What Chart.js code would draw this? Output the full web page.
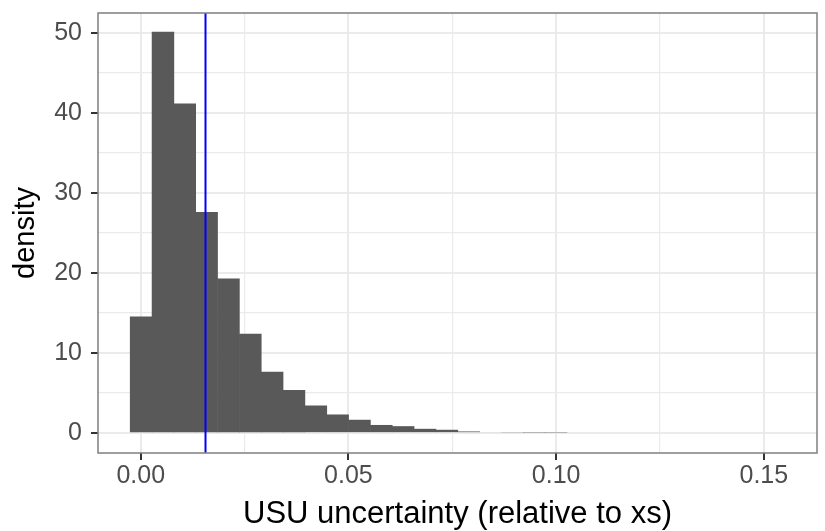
<!DOCTYPE html>
<html>
<head>
<meta charset="utf-8">
<script src="https://cdn.jsdelivr.net/npm/chart.js@4.4.1/dist/chart.umd.min.js"></script>
<style>
  html, body { margin: 0; padding: 0; background: #fff; }
  #wrap { width: 825px; height: 531px; position: relative; }
</style>
</head>
<body>
<div id="wrap"><canvas id="myChart"></canvas></div>
<script>
// histogram bins (centres) and their density
const binCenters = [
  0.00010, 0.00536, 0.01061, 0.01587, 0.02113, 0.02639, 0.03164, 0.03690,
  0.04216, 0.04741, 0.05267, 0.05793, 0.06318, 0.06844, 0.07370, 0.07896,
  0.08421, 0.08947, 0.09473, 0.09998, 0.10524, 0.11050, 0.11575, 0.12101,
  0.12627, 0.13153, 0.13678, 0.14204, 0.14730, 0.15255
];
const density = [
  14.55, 50.1, 41.15, 27.6, 19.3, 12.4, 7.66, 5.37,
  3.45, 2.33, 1.67, 1.02, 0.87, 0.54, 0.42, 0.21,
  0.12, 0.10, 0.08, 0.08, 0, 0, 0, 0,
  0, 0, 0, 0, 0, 0
];
// reference value marked with the blue line
const refValue = 0.0156;

const xMajor = [0, 0.05, 0.10, 0.15];
const xMinor = [0.025, 0.075, 0.125];
const yMajor = [0, 10, 20, 30, 40, 50];
const yMinor = [5, 15, 25, 35, 45];
const xLimits = [-0.01028, 0.1628];
const yLimits = [-2.48, 52.45];

const ctx = document.getElementById("myChart");
const font = "'Liberation Sans', Arial, sans-serif";

const isMajor = (list, v) => list.some((m) => Math.abs(m - v) < 1e-9);

// panel border around the plotting area
const panelBorder = {
  id: "panelBorder",
  afterDraw(chart) {
    const a = chart.chartArea;
    const c = chart.ctx;
    c.save();
    c.strokeStyle = "#7f7f7f";
    c.lineWidth = 1.5;
    c.strokeRect(a.left, a.top, a.right - a.left, a.bottom - a.top);
    c.restore();
  },
};

const histData = binCenters.map((x, i) => ({ x: x, y: density[i] }));

new Chart(ctx, {
  type: "bar",
  data: {
    datasets: [
      {
        type: "line",
        data: [
          { x: refValue, y: yLimits[0] },
          { x: refValue, y: yLimits[1] },
        ],
        borderColor: "#0000ff",
        borderWidth: 2,
        pointRadius: 0,
        order: 0,
      },
      {
        type: "bar",
        data: histData,
        backgroundColor: "#595959",
        borderWidth: 0,
        barPercentage: 1.03,
        categoryPercentage: 1,
        order: 1,
      },
    ],
  },
  options: {
    responsive: true,
    maintainAspectRatio: false,
    animation: false,
    layout: { padding: { top: 13, right: 8, left: 0, bottom: 0 } },
    plugins: { legend: { display: false }, tooltip: { enabled: false } },
    scales: {
      x: {
        type: "linear",
        min: xLimits[0],
        max: xLimits[1],
        offset: false,
        afterBuildTicks: (s) => {
          s.ticks = xMajor.concat(xMinor).sort((a, b) => a - b).map((v) => ({ value: v }));
        },
        afterFit: (s) => {
          s.height = 78;
          s.paddingLeft = 0;
          s.paddingRight = 0;
        },
        grid: {
          color: "#ebebeb",
          lineWidth: (c) => (isMajor(xMajor, c.tick.value) ? 2 : 1.2),
          tickColor: (c) => (isMajor(xMajor, c.tick.value) ? "#333333" : "rgba(0,0,0,0)"),
          tickWidth: 2,
          tickLength: 7,
          offset: false,
        },
        border: { display: false },
        ticks: {
          color: "#4d4d4d",
          font: { family: font, size: 25, lineHeight: 1 },
          padding: 4,
          maxRotation: 0,
          autoSkip: false,
          callback: (v) => (isMajor(xMajor, v) ? v.toFixed(2) : ""),
        },
        title: {
          display: true,
          text: "USU uncertainty (relative to xs)",
          color: "#000000",
          font: { family: font, size: 31, lineHeight: 1 },
          padding: { top: 0, bottom: 1 },
        },
      },
      y: {
        type: "linear",
        min: yLimits[0],
        max: yLimits[1],
        afterBuildTicks: (s) => {
          s.ticks = yMajor.concat(yMinor).sort((a, b) => a - b).map((v) => ({ value: v }));
        },
        afterFit: (s) => {
          s.width = 98;
          s.paddingTop = 0;
          s.paddingBottom = 0;
        },
        grid: {
          color: "#ebebeb",
          lineWidth: (c) => (isMajor(yMajor, c.tick.value) ? 2 : 1.2),
          tickColor: (c) => (isMajor(yMajor, c.tick.value) ? "#333333" : "rgba(0,0,0,0)"),
          tickWidth: 2,
          tickLength: 7,
        },
        border: { display: false },
        ticks: {
          color: "#4d4d4d",
          font: { family: font, size: 25, lineHeight: 1 },
          padding: 9,
          autoSkip: false,
          callback: (v) => (isMajor(yMajor, v) ? String(v) : ""),
        },
        title: {
          display: true,
          text: "density",
          color: "#000000",
          font: { family: font, size: 29, lineHeight: 1 },
          padding: { top: 11, bottom: 0 },
        },
      },
    },
  },
  plugins: [panelBorder],
});
</script>
</body>
</html>
